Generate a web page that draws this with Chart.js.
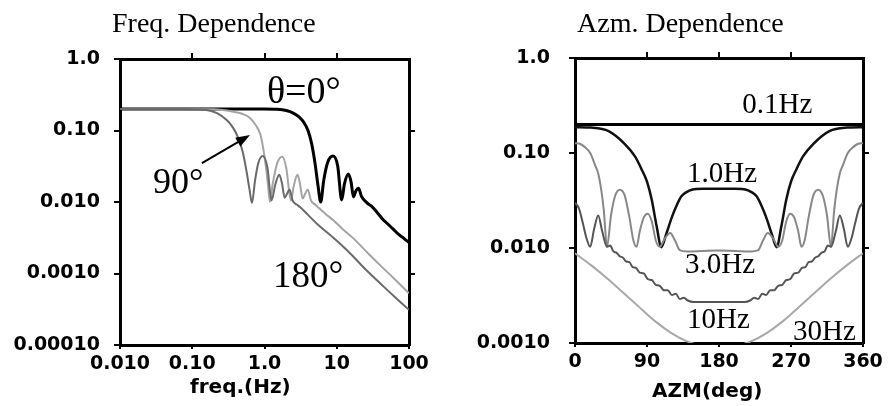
<!DOCTYPE html>
<html>
<head>
<meta charset="utf-8">
<script src="https://cdn.jsdelivr.net/npm/chart.js@4.4.1/dist/chart.umd.min.js"></script>
<style>
  html, body { margin: 0; padding: 0; background: #fff; }
  #wrap { position: relative; width: 891px; height: 406px; overflow: hidden; }
  canvas { position: absolute; top: 0; }
  #freqChart { left: 0; }
  #azmChart { left: 440px; }
</style>
</head>
<body>
<div id="wrap">
  <canvas id="freqChart" width="450" height="406"></canvas>
  <canvas id="azmChart" width="451" height="406"></canvas>
</div>
<script>
// ---- Freq. dependence (left) ----
const freqTicks = [0.01, 0.1, 1, 10, 100];
const freqTickLabels = ['0.010', '0.10', '1.0', '10', '100'];
const ampTicksL = [1, 0.1, 0.01, 0.001, 0.0001];
const ampTickLabelsL = ['1.0', '0.10', '0.010', '0.0010', '0.00010'];

const freq0 = [0.01, 0.1, 0.5, 1.0, 1.5, 2.0, 2.5, 3.0, 3.5, 4.0, 4.5, 5.0, 5.5, 6.0, 6.6, 7.5, 8.9, 10.3, 11.7, 12.8, 14.4, 15.8, 17, 18.5, 20, 22, 26, 30, 36, 43, 50, 60, 70, 85, 100];
const amp0 = [0.2, 0.2, 0.2, 0.2, 0.198, 0.19, 0.175, 0.155, 0.13, 0.10, 0.065, 0.035, 0.017, 0.010, 0.02, 0.036, 0.044, 0.032, 0.0107, 0.018, 0.0246, 0.019, 0.0118, 0.0145, 0.0156, 0.012, 0.0098, 0.0088, 0.0072, 0.0058, 0.0050, 0.0042, 0.0036, 0.0031, 0.0027];

const freq90 = [0.01, 0.1, 0.2, 0.3, 0.4, 0.5, 0.63, 0.75, 0.87, 0.95, 1.05, 1.12, 1.19, 1.3, 1.5, 1.76, 2.0, 2.32, 2.55, 2.86, 3.1, 3.37, 3.65, 3.97, 4.4, 5, 6, 7, 8.9, 12, 17, 26, 40, 60, 100];
const amp90 = [0.2, 0.2, 0.198, 0.19, 0.18, 0.17, 0.15, 0.12, 0.09, 0.06, 0.03, 0.017, 0.010, 0.018, 0.035, 0.043, 0.03, 0.0105, 0.017, 0.024, 0.018, 0.0112, 0.013, 0.015, 0.0105, 0.0092, 0.0078, 0.0068, 0.0056, 0.0042, 0.0031, 0.002, 0.0013, 0.00088, 0.00053];

const freq180 = [0.01, 0.08, 0.15, 0.22, 0.3, 0.37, 0.43, 0.5, 0.56, 0.62, 0.67, 0.74, 0.82, 0.95, 1.1, 1.25, 1.42, 1.6, 1.75, 1.9, 2.05, 2.22, 2.45, 2.8, 3.1, 4, 5.5, 8.9, 14, 26, 45, 70, 100];
const amp180 = [0.2, 0.2, 0.195, 0.175, 0.14, 0.108, 0.08, 0.05, 0.028, 0.015, 0.0097, 0.02, 0.035, 0.044, 0.03, 0.0105, 0.018, 0.024, 0.018, 0.0115, 0.013, 0.015, 0.0105, 0.0092, 0.0085, 0.0066, 0.0048, 0.0032, 0.0021, 0.0011, 0.00065, 0.00043, 0.00031];

// ---- Azm. dependence (right) ----
const azmTicks = [0, 90, 180, 270, 360];
const azmTickLabels = ['0', '90', '180', '270', '360'];
const ampTicksR = [1, 0.1, 0.01, 0.001];
const ampTickLabelsR = ['1.0', '0.10', '0.010', '0.0010'];

const azm01 = [0, 90, 180, 270, 360];
const amp01 = [0.2, 0.2, 0.2, 0.2, 0.2];

const azm1 = [0, 20, 42, 62, 75, 83, 90, 96, 102, 108, 114, 121, 127, 133, 140, 146, 160, 180, 200, 214, 220, 227, 233, 239, 246, 252, 258, 264, 270, 277, 285, 298, 318, 340, 360];
const amp1 = [0.187, 0.185, 0.17, 0.125, 0.092, 0.068, 0.05, 0.032, 0.017, 0.0102, 0.014, 0.021, 0.028, 0.035, 0.039, 0.041, 0.042, 0.042, 0.042, 0.041, 0.039, 0.035, 0.028, 0.021, 0.014, 0.0102, 0.017, 0.032, 0.05, 0.068, 0.092, 0.125, 0.17, 0.185, 0.187];

const azm3 = [0, 6, 12, 19, 25, 29, 33, 36, 40, 45, 50, 56, 62, 68, 73, 77, 81, 86, 91, 96, 101, 106, 112, 119, 125, 131, 140, 160, 180, 200, 220, 229, 235, 241, 248, 254, 259, 264, 269, 274, 279, 283, 287, 292, 298, 304, 310, 315, 320, 324, 327, 331, 335, 341, 348, 354, 360];
const amp3 = [0.127, 0.125, 0.116, 0.1, 0.075, 0.061, 0.04, 0.025, 0.0103, 0.022, 0.035, 0.041, 0.036, 0.021, 0.012, 0.0103, 0.015, 0.021, 0.023, 0.019, 0.012, 0.0103, 0.0125, 0.0144, 0.012, 0.0095, 0.0092, 0.0093, 0.0094, 0.0093, 0.0092, 0.0095, 0.012, 0.0144, 0.0125, 0.0103, 0.012, 0.019, 0.023, 0.021, 0.015, 0.0103, 0.012, 0.021, 0.036, 0.041, 0.035, 0.022, 0.0103, 0.025, 0.04, 0.061, 0.075, 0.1, 0.116, 0.125, 0.127];

const azm10 = [0, 5, 10, 14, 19, 24, 29, 34, 40, 44, 48, 52, 56, 60, 64, 68, 72, 76, 81, 86, 91, 96, 101, 106, 111, 116, 121, 126, 131, 136, 141, 148, 160, 180, 200, 212, 219, 224, 229, 234, 239, 244, 249, 254, 259, 264, 269, 274, 279, 284, 288, 292, 296, 300, 304, 308, 312, 316, 320, 326, 331, 336, 341, 346, 350, 355, 360];
const amp10 = [0.03, 0.026, 0.018, 0.013, 0.0103, 0.016, 0.022, 0.015, 0.0103, 0.0106, 0.0092, 0.0089, 0.0082, 0.0079, 0.0072, 0.0071, 0.0063, 0.0062, 0.0055, 0.0054, 0.0047, 0.0046, 0.0041, 0.004, 0.0036, 0.0036, 0.0032, 0.0033, 0.0029, 0.003, 0.0028, 0.0027, 0.0027, 0.0027, 0.0027, 0.0027, 0.0028, 0.003, 0.0029, 0.0033, 0.0032, 0.0036, 0.0036, 0.004, 0.0041, 0.0046, 0.0047, 0.0054, 0.0055, 0.0062, 0.0063, 0.0071, 0.0072, 0.0079, 0.0082, 0.0089, 0.0092, 0.0106, 0.0103, 0.015, 0.022, 0.016, 0.0103, 0.013, 0.018, 0.026, 0.03];

const azm30 = [0, 20, 40, 60, 80, 100, 120, 140, 160, 180, 200, 220, 240, 260, 280, 300, 320, 340, 360];
const amp30 = [0.0088, 0.0066, 0.0048, 0.0034, 0.0024, 0.0017, 0.00128, 0.00104, 0.00093, 0.0009, 0.00093, 0.00104, 0.00128, 0.0017, 0.0024, 0.0034, 0.0048, 0.0066, 0.0088];

const TICK_FONT = { family: 'DejaVu Sans', size: 19, weight: 'bold' };
const SERIF = '"Liberation Serif", "Times New Roman", serif';

function pts(xs, ys) {
    return xs.map((x, i) => ({ x: x, y: ys[i] }));
}

function line(xs, ys, color, width) {
    return {
        data: pts(xs, ys),
        borderColor: color,
        borderWidth: width,
        pointRadius: 0,
        cubicInterpolationMode: 'monotone',
        borderJoinStyle: 'round',
        fill: false
    };
}

// one side of the frame: ticks at fixed values, optional labels
function axis(type, pos, min, max, ticks, labels, opt) {
    const horiz = pos === 'top' || pos === 'bottom';
    return {
        type: type,
        position: pos,
        min: min,
        max: max,
        afterBuildTicks: s => { s.ticks = ticks.map(v => ({ value: v })); },
        afterFit: s => { if (horiz) s.height = opt.size; else s.width = opt.size; },
        ticks: {
            display: !!labels,
            autoSkip: false,
            maxRotation: 0,
            padding: opt.pad || 0,
            color: '#000',
            font: TICK_FONT,
            callback: v => labels ? labels[ticks.indexOf(v)] : ''
        },
        grid: { drawOnChartArea: false, drawTicks: true, tickLength: opt.tick, color: '#000', lineWidth: 2 },
        border: { display: true, color: '#000', width: 3 }
    };
}

// titles and in-plot labels
function notesPlugin(notes) {
    return {
        id: 'notes',
        afterDatasetsDraw(chart) {
            const { ctx, chartArea, scales } = chart;
            ctx.save();
            ctx.fillStyle = '#000';
            ctx.textAlign = 'left';
            ctx.textBaseline = 'alphabetic';
            ctx.font = '28px ' + SERIF;
            ctx.fillText(notes.title, chartArea.left + notes.titleDx, notes.titleY);
            ctx.font = 'bold 20px "DejaVu Sans"';
            ctx.fillText(notes.axisTitle, chartArea.left + notes.axisDx, notes.axisY);
            notes.labels.forEach(l => {
                ctx.font = l.size + 'px ' + SERIF;
                ctx.fillText(l.text, scales.x.getPixelForValue(l.x), scales.y.getPixelForValue(l.y));
            });
            if (notes.arrow) {
                const a = notes.arrow;
                const x0 = scales.x.getPixelForValue(a.x0), y0 = scales.y.getPixelForValue(a.y0);
                const x1 = scales.x.getPixelForValue(a.x1), y1 = scales.y.getPixelForValue(a.y1);
                const ang = Math.atan2(y1 - y0, x1 - x0);
                ctx.strokeStyle = '#000';
                ctx.lineWidth = 2;
                ctx.beginPath();
                ctx.moveTo(x0, y0);
                ctx.lineTo(x1 - 10 * Math.cos(ang), y1 - 10 * Math.sin(ang));
                ctx.stroke();
                ctx.beginPath();
                ctx.moveTo(x1, y1);
                ctx.lineTo(x1 - 15 * Math.cos(ang - 0.35), y1 - 15 * Math.sin(ang - 0.35));
                ctx.lineTo(x1 - 15 * Math.cos(ang + 0.35), y1 - 15 * Math.sin(ang + 0.35));
                ctx.closePath();
                ctx.fill();
            }
            ctx.restore();
        }
    };
}

const baseOptions = {
    responsive: false,
    animation: false,
    events: [],
    plugins: { legend: { display: false }, tooltip: { enabled: false }, title: { display: false } }
};

// left chart: plot area 120..409 x 59..345
new Chart(document.getElementById('freqChart'), {
    type: 'line',
    data: {
        datasets: [
            line(freq180, amp180, '#6a6a6a', 2),
            line(freq90, amp90, '#a4a4a4', 2),
            line(freq0, amp0, '#000', 3)
        ]
    },
    options: Object.assign({}, baseOptions, {
        layout: { padding: { top: 53, right: 35, bottom: 0, left: 0 } },
        scales: {
            x: axis('logarithmic', 'bottom', 0.01, 100, freqTicks, freqTickLabels, { size: 61, tick: 4, pad: 4 }),
            x2: axis('logarithmic', 'top', 0.01, 100, [0.1, 1, 10], null, { size: 6, tick: 6 }),
            y: axis('logarithmic', 'left', 0.0001, 1, ampTicksL, ampTickLabelsL, { size: 120, tick: 6, pad: 14 }),
            y2: axis('logarithmic', 'right', 0.0001, 1, [0.1, 0.01, 0.001], null, { size: 6, tick: 6 })
        }
    }),
    plugins: [notesPlugin({
        title: 'Freq. Dependence', titleDx: -8, titleY: 32,
        axisTitle: 'freq.(Hz)', axisDx: 70, axisY: 393,
        labels: [
            { text: 'θ=0°', x: 1.08, y: 0.243, size: 38 },
            { text: '90°', x: 0.0286, y: 0.0134, size: 36 },
            { text: '180°', x: 1.31, y: 0.00065, size: 37 }
        ],
        arrow: { x0: 0.136, y0: 0.035, x1: 0.63, y1: 0.0865 }
    })]
});

// right chart: plot area 575..863 x 58..343 (canvas starts at 440)
new Chart(document.getElementById('azmChart'), {
    type: 'line',
    data: {
        datasets: [
            line(azm30, amp30, '#a8a8a8', 2),
            line(azm10, amp10, '#555', 2),
            line(azm3, amp3, '#888', 2),
            line(azm1, amp1, '#111', 2.5),
            line(azm01, amp01, '#000', 3)
        ]
    },
    options: Object.assign({}, baseOptions, {
        layout: { padding: { top: 52, right: 22, bottom: 0, left: 0 } },
        scales: {
            x: axis('linear', 'bottom', 0, 360, azmTicks, azmTickLabels, { size: 63, tick: 4, pad: 4 }),
            x2: axis('linear', 'top', 0, 360, [90, 180, 270], null, { size: 6, tick: 6 }),
            y: axis('logarithmic', 'left', 0.001, 1, ampTicksR, ampTickLabelsR, { size: 135, tick: 6, pad: 19 }),
            y2: axis('logarithmic', 'right', 0.001, 1, [0.1, 0.01], null, { size: 6, tick: 6 })
        }
    }),
    plugins: [notesPlugin({
        title: 'Azm. Dependence', titleDx: 2, titleY: 32,
        axisTitle: 'AZM(deg)', axisDx: 77, axisY: 397,
        labels: [
            { text: '0.1Hz', x: 209, y: 0.264, size: 29 },
            { text: '1.0Hz', x: 140, y: 0.0495, size: 29 },
            { text: '3.0Hz', x: 137.5, y: 0.00546, size: 29 },
            { text: '10Hz', x: 140, y: 0.00144, size: 29 },
            { text: '30Hz', x: 272.5, y: 0.00108, size: 29 }
        ]
    })]
});
</script>
</body>
</html>
